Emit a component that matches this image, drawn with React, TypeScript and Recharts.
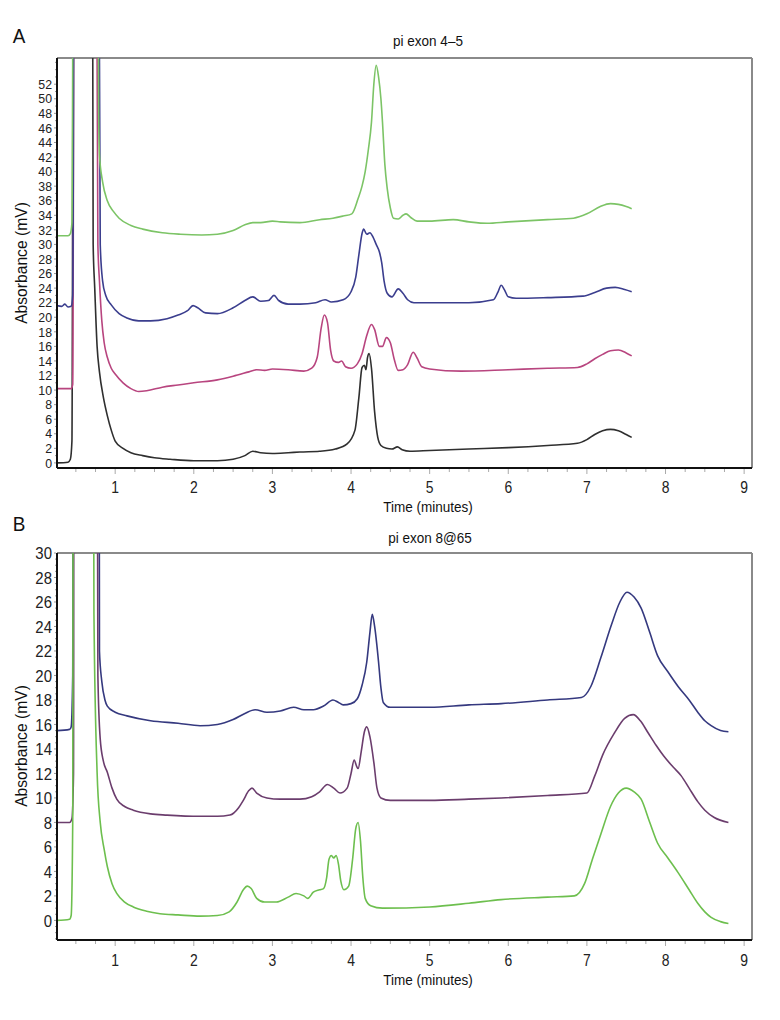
import React from 'react';
import { LineChart, Line, XAxis, YAxis, ReferenceLine } from 'recharts';

const FONT = "'Liberation Sans', Arial, sans-serif";

// ---------- tick labels ----------
const xTickLabels = [1, 2, 3, 4, 5, 6, 7, 8, 9];
const aYTickLabels = [0, 2, 4, 6, 8, 10, 12, 14, 16, 18, 20, 22, 24, 26, 28, 30, 32, 34, 36, 38, 40, 42, 44, 46, 48, 50, 52];
const bYTickLabels = [0, 2, 4, 6, 8, 10, 12, 14, 16, 18, 20, 22, 24, 26, 28, 30];

const X_DOMAIN: [number, number] = [0.26, 9.1];
const A_Y_DOMAIN: [number, number] = [-0.7, 55.6];
const B_Y_DOMAIN: [number, number] = [-1.6, 30];

// ---------- Panel A: pi exon 4–5 (time min, absorbance mV) ----------
const aBlack: [number, number][] = [
  [0.26, 0], [0.4, 0.1], [0.43, 0.5], [0.45, 3], [0.47, 80], [0.71, 80], [0.72, 30], [0.74, 24], [0.77, 16],
  [0.8, 12.5], [0.85, 9], [0.9, 6.5], [0.95, 4.5], [1.0, 3.0], [1.1, 2.0], [1.2, 1.4], [1.35, 1.0], [1.5, 0.7],
  [1.7, 0.5], [2.0, 0.3], [2.3, 0.3], [2.5, 0.5], [2.65, 1.0], [2.75, 1.6], [2.85, 1.4], [3.0, 1.3], [3.2, 1.4],
  [3.35, 1.5], [3.6, 1.6], [3.8, 1.9], [3.95, 2.6], [4.05, 4.5], [4.1, 9], [4.14, 13.1], [4.17, 13.4], [4.19, 12.8],
  [4.21, 14.5], [4.23, 15.0], [4.26, 13], [4.3, 7], [4.34, 3.5], [4.38, 2.4], [4.45, 2.0], [4.52, 1.9], [4.59, 2.2],
  [4.65, 1.8], [4.75, 1.6], [5.0, 1.7], [5.5, 1.9], [6.0, 2.1], [6.5, 2.4], [6.88, 2.7], [7.0, 3.2], [7.1, 3.9],
  [7.2, 4.4], [7.3, 4.6], [7.4, 4.4], [7.5, 3.9], [7.57, 3.5],
];
const aPink: [number, number][] = [
  [0.26, 10.2], [0.44, 10.2], [0.46, 10.8], [0.48, 80], [0.76, 80], [0.78, 30], [0.8, 25], [0.83, 19.5], [0.86, 16.5],
  [0.9, 14.5], [0.95, 13], [1.0, 12.2], [1.1, 11], [1.2, 10.2], [1.3, 9.8], [1.4, 9.9], [1.6, 10.4], [1.8, 10.7],
  [2.0, 11.0], [2.3, 11.4], [2.5, 11.9], [2.7, 12.5], [2.8, 12.8], [2.9, 12.7], [3.0, 12.9], [3.2, 12.8], [3.4, 12.6],
  [3.5, 13.0], [3.57, 14.5], [3.62, 18.5], [3.66, 20.3], [3.7, 19.3], [3.74, 15.5], [3.78, 14.0], [3.84, 13.8],
  [3.88, 14.0], [3.93, 13.2], [4.0, 13.0], [4.08, 13.6], [4.14, 15.0], [4.2, 17.5], [4.26, 19.0], [4.3, 18.3],
  [4.36, 16.0], [4.4, 16.0], [4.45, 17.2], [4.5, 16.5], [4.55, 14.2], [4.6, 12.7], [4.66, 12.8], [4.72, 13.5],
  [4.79, 15.2], [4.84, 14.4], [4.9, 13.2], [5.0, 12.9], [5.4, 12.6], [6.0, 12.8], [6.5, 13.0], [6.88, 13.1],
  [7.0, 13.6], [7.1, 14.3], [7.2, 14.9], [7.3, 15.4], [7.4, 15.5], [7.5, 15.1], [7.57, 14.7],
];
const aNavy: [number, number][] = [
  [0.26, 21.6], [0.32, 21.5], [0.36, 21.8], [0.4, 21.4], [0.44, 21.5], [0.46, 23], [0.48, 80], [0.79, 80],
  [0.81, 30], [0.84, 25], [0.88, 23], [0.95, 21.7], [1.05, 20.5], [1.15, 19.9], [1.3, 19.5], [1.45, 19.5],
  [1.66, 19.8], [1.8, 20.3], [1.92, 20.9], [1.99, 21.6], [2.05, 21.3], [2.15, 20.6], [2.3, 20.5], [2.5, 21.3],
  [2.65, 22.3], [2.75, 22.8], [2.85, 22.2], [2.95, 22.3], [3.02, 23.0], [3.08, 22.3], [3.2, 21.8], [3.35, 21.8],
  [3.55, 22.0], [3.67, 22.4], [3.75, 22.1], [3.9, 22.4], [4.0, 23.5], [4.06, 25.5], [4.1, 28.6], [4.14, 31.5],
  [4.16, 32.1], [4.2, 31.4], [4.24, 31.6], [4.28, 31.0], [4.32, 30.0], [4.36, 29.0], [4.39, 27.5], [4.42, 25],
  [4.46, 23.3], [4.52, 22.8], [4.6, 23.9], [4.66, 23.3], [4.72, 22.4], [4.8, 22.0], [5.05, 22.0], [5.5, 22.0],
  [5.81, 22.4], [5.87, 23.5], [5.91, 24.4], [5.95, 23.8], [6.0, 22.8], [6.1, 22.6], [6.5, 22.7], [6.95, 22.9],
  [7.1, 23.4], [7.25, 24.0], [7.36, 24.1], [7.48, 23.8], [7.57, 23.5],
];
const aGreen: [number, number][] = [
  [0.26, 31.2], [0.4, 31.2], [0.43, 31.5], [0.45, 33], [0.47, 80], [0.78, 80], [0.79, 48], [0.8, 42.3], [0.84, 38.6],
  [0.9, 36.0], [0.98, 34.5], [1.05, 33.6], [1.2, 32.6], [1.35, 32.1], [1.6, 31.6], [1.83, 31.4], [2.1, 31.3],
  [2.3, 31.4], [2.5, 31.9], [2.65, 32.7], [2.75, 33.0], [2.85, 33.0], [3.0, 33.2], [3.1, 33.1], [3.35, 33.0],
  [3.6, 33.4], [3.77, 33.6], [3.9, 33.9], [4.01, 34.2], [4.09, 36.3], [4.14, 38], [4.18, 40], [4.22, 43],
  [4.26, 46.8], [4.29, 52], [4.32, 54.6], [4.35, 53], [4.38, 50], [4.4, 46.8], [4.43, 41], [4.46, 37.7], [4.5, 35],
  [4.54, 33.6], [4.6, 33.5], [4.66, 34.0], [4.7, 34.2], [4.76, 33.7], [4.84, 33.2], [5.0, 33.2], [5.3, 33.4],
  [5.5, 33.1], [5.73, 32.9], [6.0, 33.1], [6.5, 33.4], [6.83, 33.6], [7.0, 34.2], [7.17, 35.2], [7.3, 35.6],
  [7.4, 35.5], [7.5, 35.2], [7.57, 34.9],
];

// ---------- Panel B: pi exon 8@65 ----------
const bNavy: [number, number][] = [
  [0.26, 15.5], [0.42, 15.6], [0.44, 15.8], [0.46, 20], [0.47, 80], [0.79, 80], [0.8, 22], [0.83, 19.5], [0.87, 18],
  [0.9, 17.5], [1.0, 17.0], [1.15, 16.7], [1.45, 16.3], [1.8, 16.1], [2.08, 15.9], [2.3, 16.0], [2.5, 16.4],
  [2.65, 16.9], [2.78, 17.2], [2.93, 17.0], [3.1, 17.1], [3.27, 17.4], [3.4, 17.2], [3.52, 17.2], [3.65, 17.5],
  [3.77, 18.0], [3.84, 17.8], [3.9, 17.6], [4.0, 17.7], [4.08, 18.1], [4.14, 19.2], [4.2, 21.1], [4.24, 23.5],
  [4.27, 25.0], [4.3, 24], [4.35, 21.1], [4.38, 19], [4.41, 17.8], [4.5, 17.4], [4.63, 17.4], [5.0, 17.4],
  [5.5, 17.6], [5.91, 17.7], [6.5, 18.0], [6.93, 18.2], [7.05, 19.1], [7.18, 21.5], [7.31, 24.1], [7.42, 26.0],
  [7.51, 26.8], [7.6, 26.4], [7.69, 25.5], [7.8, 23.5], [7.9, 21.6], [8.03, 20.3], [8.16, 19.1], [8.3, 18.0],
  [8.41, 17.0], [8.5, 16.3], [8.58, 15.9], [8.7, 15.5], [8.8, 15.4],
];
const bPurple: [number, number][] = [
  [0.26, 8.0], [0.42, 8.0], [0.45, 8.3], [0.47, 12], [0.48, 80], [0.76, 80], [0.78, 20], [0.81, 14.8], [0.85, 13],
  [0.9, 12.1], [0.96, 10.8], [1.02, 9.9], [1.12, 9.3], [1.23, 9.0], [1.45, 8.7], [1.66, 8.6], [2.08, 8.5], [2.3, 8.5],
  [2.46, 8.6], [2.57, 9.2], [2.63, 9.8], [2.7, 10.6], [2.74, 10.8], [2.8, 10.4], [2.93, 10.0], [3.1, 9.9],
  [3.35, 9.9], [3.5, 10.1], [3.6, 10.5], [3.7, 11.1], [3.78, 10.8], [3.86, 10.4], [3.95, 10.8], [4.0, 12.0],
  [4.04, 13.1], [4.07, 12.6], [4.09, 12.4], [4.13, 13.8], [4.17, 15.4], [4.2, 15.8], [4.24, 15.0], [4.29, 12.9],
  [4.33, 10.8], [4.38, 10.0], [4.5, 9.8], [4.63, 9.8], [5.0, 9.8], [5.5, 9.9], [5.91, 10.0], [6.5, 10.2],
  [7.0, 10.4], [7.1, 11.8], [7.2, 13.5], [7.35, 15.3], [7.48, 16.5], [7.59, 16.8], [7.68, 16.3], [7.78, 15.3],
  [7.88, 14.3], [7.98, 13.4], [8.1, 12.5], [8.2, 11.8], [8.3, 10.8], [8.41, 9.7], [8.5, 9.0], [8.62, 8.4], [8.8, 8.0],
];
const bGreen: [number, number][] = [
  [0.26, 0], [0.42, 0.1], [0.44, 0.4], [0.46, 8], [0.47, 80], [0.71, 80], [0.73, 25], [0.77, 12.1], [0.81, 8.0],
  [0.86, 5.8], [0.9, 4.4], [0.96, 3.0], [1.02, 2.2], [1.12, 1.5], [1.23, 1.1], [1.4, 0.75], [1.57, 0.55],
  [1.8, 0.45], [2.08, 0.35], [2.3, 0.4], [2.45, 0.7], [2.55, 1.5], [2.63, 2.5], [2.68, 2.8], [2.73, 2.6],
  [2.8, 1.8], [2.9, 1.5], [3.05, 1.5], [3.2, 1.9], [3.3, 2.2], [3.4, 2.0], [3.45, 1.8], [3.52, 2.3], [3.6, 2.5],
  [3.65, 2.6], [3.69, 3.5], [3.72, 5.0], [3.75, 5.3], [3.78, 5.1], [3.81, 5.3], [3.84, 4.6], [3.87, 3.2],
  [3.91, 2.5], [3.97, 2.8], [4.02, 5], [4.06, 7.5], [4.09, 8.0], [4.12, 6.5], [4.15, 3.5], [4.18, 1.8],
  [4.25, 1.2], [4.4, 1.0], [5.0, 1.1], [5.5, 1.4], [5.91, 1.7], [6.5, 1.9], [6.84, 2.0], [6.97, 3.0], [7.07, 5.0],
  [7.18, 7.1], [7.3, 9.3], [7.4, 10.4], [7.5, 10.8], [7.6, 10.5], [7.69, 9.9], [7.8, 8.0], [7.9, 6.3], [8.03, 5.1],
  [8.16, 3.9], [8.3, 2.5], [8.41, 1.4], [8.5, 0.7], [8.58, 0.25], [8.7, -0.1], [8.8, -0.25],
];

const toPts = (arr: [number, number][]) => arr.map(([t, v]) => ({ t, v }));

// minor/major tick positions built from the label lists
const xTicks: number[] = [];
for (let i = 2; i <= 36; i++) xTicks.push(i * 0.25);
const aYTicks: number[] = [];
for (let i = 0; i <= 55; i++) aYTicks.push(i);
const bYTicks: number[] = [];
for (let i = -3; i <= 60; i++) bYTicks.push(i * 0.5);

const makeXTick = (fontSize: number, labelOffset: number) => (props: any) => {
  const { x, y, payload } = props;
  const v = payload.value as number;
  const major = xTickLabels.includes(v);
  return (
    <g>
      <line x1={x} x2={x} y1={y + 1} y2={y + (major ? 6 : 4)} stroke="#aaa" strokeWidth={1} />
      {major && (
        <text
          transform={`translate(${x},${y + labelOffset}) scale(0.82,1)`}
          x={0}
          y={0}
          dy="0.36em"
          textAnchor="middle"
          fontSize={fontSize}
          fontFamily={FONT}
          fill="#222"
        >
          {v}
        </text>
      )}
    </g>
  );
};

const makeYTick = (labels: number[], fontSize: number, sx: number) => (props: any) => {
  const { x, y, payload } = props;
  const v = payload.value as number;
  const major = labels.includes(v);
  return (
    <g>
      <line x1={x - 1} x2={x - (major ? 3 : 2)} y1={y} y2={y} stroke="#999" strokeWidth={1} />
      {major && (
        <text
          transform={`translate(${x - 5},${y}) scale(${sx},1)`}
          x={0}
          y={0}
          dy="0.36em"
          textAnchor="end"
          fontSize={fontSize}
          fontFamily={FONT}
          fill="#222"
        >
          {v}
        </text>
      )}
    </g>
  );
};

const textStyle = (left: number, top: number, size: number, sx = 0.88): React.CSSProperties => ({
  position: 'absolute',
  left,
  top,
  transform: `translate(-50%, -50%) scale(${sx}, 1)`,
  fontFamily: FONT,
  fontSize: size,
  color: '#111',
  whiteSpace: 'nowrap',
  lineHeight: 1,
});

const LINE_W = 1.6;
const CURVE = 'monotone';

export default function App() {
  return (
    <div style={{ position: 'absolute', left: 0, top: 0, width: 780, height: 1020, background: '#fff' }}>
      {/* Panel A */}
      <div style={{ position: 'absolute', left: 0, top: 0 }}>
        <LineChart width={780} height={510} margin={{ top: 58, right: 28, bottom: 12, left: 17 }}>
          <XAxis
            dataKey="t"
            type="number"
            domain={X_DOMAIN}
            ticks={xTicks}
            interval={0}
            allowDataOverflow
            height={30}
            tickSize={0}
            tickMargin={0}
            tickLine={false}
            axisLine={{ stroke: '#111', strokeWidth: 2 }}
            tick={makeXTick(17, 19)}
          />
          <YAxis
            type="number"
            domain={A_Y_DOMAIN}
            ticks={aYTicks}
            interval={0}
            allowDataOverflow
            width={40}
            tickSize={0}
            tickMargin={0}
            tickLine={false}
            axisLine={{ stroke: '#111', strokeWidth: 2 }}
            tick={makeYTick(aYTickLabels, 13, 0.95)}
          />
          <ReferenceLine y={A_Y_DOMAIN[1]} stroke="#8a8a8a" strokeWidth={2} />
          <ReferenceLine x={X_DOMAIN[1]} stroke="#8a8a8a" strokeWidth={2} />
          <Line data={toPts(aBlack)} dataKey="v" stroke="#2f2f2f" strokeWidth={LINE_W} dot={false} isAnimationActive={false} type={CURVE} />
          <Line data={toPts(aPink)} dataKey="v" stroke="#b8457f" strokeWidth={LINE_W} dot={false} isAnimationActive={false} type={CURVE} />
          <Line data={toPts(aNavy)} dataKey="v" stroke="#3b3e8e" strokeWidth={LINE_W} dot={false} isAnimationActive={false} type={CURVE} />
          <Line data={toPts(aGreen)} dataKey="v" stroke="#7cc466" strokeWidth={LINE_W} dot={false} isAnimationActive={false} type={CURVE} />
        </LineChart>
      </div>

      {/* Panel B */}
      <div style={{ position: 'absolute', left: 0, top: 510 }}>
        <LineChart width={780} height={510} margin={{ top: 43, right: 28, bottom: 50, left: 17 }}>
          <XAxis
            dataKey="t"
            type="number"
            domain={X_DOMAIN}
            ticks={xTicks}
            interval={0}
            allowDataOverflow
            height={30}
            tickSize={0}
            tickMargin={0}
            tickLine={false}
            axisLine={{ stroke: '#111', strokeWidth: 2 }}
            tick={makeXTick(17, 20)}
          />
          <YAxis
            type="number"
            domain={B_Y_DOMAIN}
            ticks={bYTicks}
            interval={0}
            allowDataOverflow
            width={40}
            tickSize={0}
            tickMargin={0}
            tickLine={false}
            axisLine={{ stroke: '#111', strokeWidth: 2 }}
            tick={makeYTick(bYTickLabels, 17, 0.88)}
          />
          <ReferenceLine y={B_Y_DOMAIN[1]} stroke="#8a8a8a" strokeWidth={2} />
          <ReferenceLine x={X_DOMAIN[1]} stroke="#8a8a8a" strokeWidth={2} />
          <Line data={toPts(bNavy)} dataKey="v" stroke="#35397f" strokeWidth={LINE_W} dot={false} isAnimationActive={false} type={CURVE} />
          <Line data={toPts(bPurple)} dataKey="v" stroke="#6b3d6d" strokeWidth={LINE_W} dot={false} isAnimationActive={false} type={CURVE} />
          <Line data={toPts(bGreen)} dataKey="v" stroke="#6dbf4e" strokeWidth={LINE_W} dot={false} isAnimationActive={false} type={CURVE} />
        </LineChart>
      </div>

      {/* Text */}
      <div style={textStyle(19, 35, 21, 0.9)}>A</div>
      <div style={textStyle(428, 40, 15, 0.9)}>pi exon 4–5</div>
      <div style={textStyle(428, 506, 15, 0.9)}>Time (minutes)</div>
      <div style={{ ...textStyle(21, 263, 17), transform: 'translate(-50%, -50%) rotate(-90deg) scale(0.92, 1)' }}>Absorbance (mV)</div>

      <div style={textStyle(19, 523, 21, 0.9)}>B</div>
      <div style={textStyle(430, 537, 15, 0.9)}>pi exon 8@65</div>
      <div style={textStyle(428, 979, 15, 0.9)}>Time (minutes)</div>
      <div style={{ ...textStyle(21, 746, 17), transform: 'translate(-50%, -50%) rotate(-90deg) scale(0.92, 1)' }}>Absorbance (mV)</div>
    </div>
  );
}
